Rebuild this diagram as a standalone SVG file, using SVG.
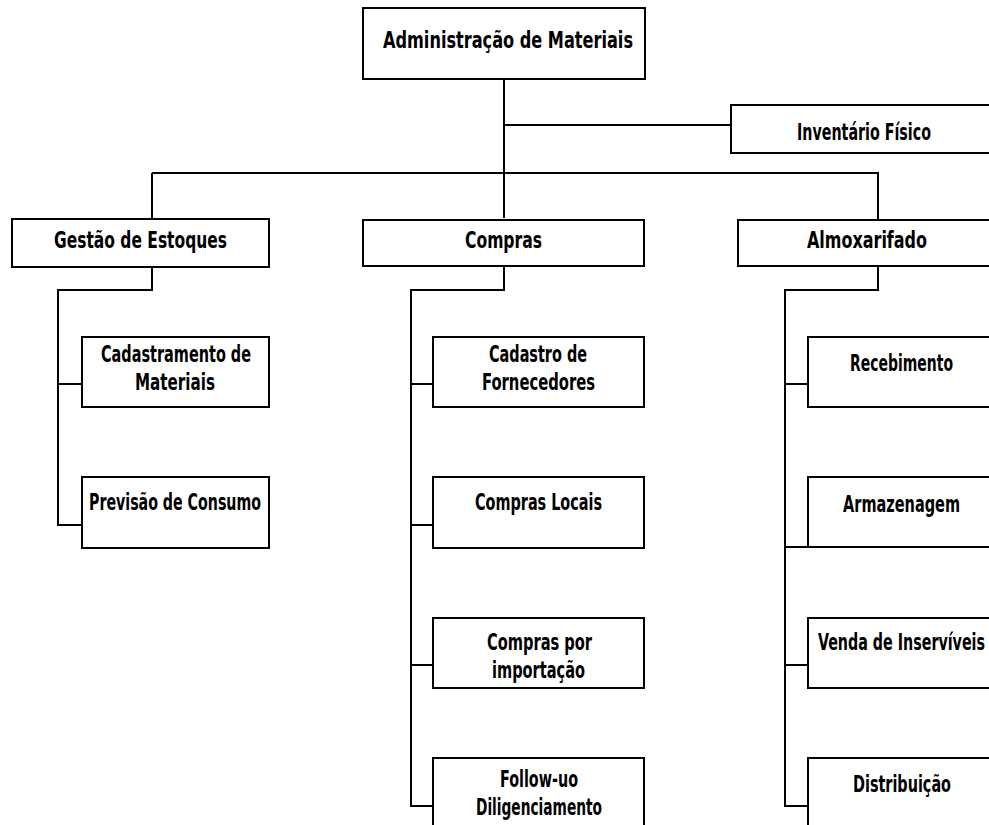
<svg xmlns="http://www.w3.org/2000/svg" width="989" height="825" viewBox="0 0 989 825">
<style>
rect,.b{fill:#fff;stroke:#000;stroke-width:2}
.c path{fill:none;stroke:#000;stroke-width:2}
text{font-family:"DejaVu Sans Condensed","Liberation Sans Narrow","DejaVu Sans",sans-serif;font-weight:bold;font-size:23px;fill:#000;text-anchor:middle}
</style>
<rect x="0" y="0" width="989" height="825" style="stroke:none"/>
<g class="c" id="connectors">
<path d="M504 79V218"/>
<path d="M504 125H731"/>
<path d="M152 173H878V220"/>
<path d="M152 173V219"/>
<path d="M152 267V290H58V525H82"/>
<path d="M58 384H82"/>
<path d="M504 266V290H411V806H433"/>
<path d="M411 384H433"/>
<path d="M411 525H433"/>
<path d="M411 665H433"/>
<path d="M878 266V290H785V806H808"/>
<path d="M785 384H808"/>
<path d="M785 547H808"/>
<path d="M785 665H808"/>
</g>
<g id="n-admin"><rect x="363" y="8" width="282" height="71"/><text x="508" y="48" textLength="250" lengthAdjust="spacingAndGlyphs">Administração de Materiais</text></g>
<g id="n-inventario"><path class="b" d="M990 105H731V153H990"/><text x="864" y="140" textLength="134" lengthAdjust="spacingAndGlyphs">Inventário Físico</text></g>
<g id="n-gestao"><rect x="12" y="219" width="257" height="48"/><text x="140.5" y="248" textLength="173" lengthAdjust="spacingAndGlyphs">Gestão de Estoques</text></g>
<g id="n-compras"><rect x="363" y="220" width="281" height="46"/><text x="503.5" y="248" textLength="77" lengthAdjust="spacingAndGlyphs">Compras</text></g>
<g id="n-almox"><path class="b" d="M990 220H738V266H990"/><text x="867" y="248" textLength="120" lengthAdjust="spacingAndGlyphs">Almoxarifado</text></g>
<g id="n-cadmat"><rect x="82" y="337" width="187" height="70"/><text x="176" y="362" textLength="150" lengthAdjust="spacingAndGlyphs">Cadastramento de</text><text x="175" y="390" textLength="80" lengthAdjust="spacingAndGlyphs">Materiais</text></g>
<g id="n-previsao"><rect x="82" y="477" width="187" height="71"/><text x="175" y="510" textLength="172" lengthAdjust="spacingAndGlyphs">Previsão de Consumo</text></g>
<g id="n-cadforn"><rect x="433" y="337" width="211" height="70"/><text x="538" y="362" textLength="98" lengthAdjust="spacingAndGlyphs">Cadastro de</text><text x="538.5" y="390" textLength="113" lengthAdjust="spacingAndGlyphs">Fornecedores</text></g>
<g id="n-locais"><rect x="433" y="477" width="211" height="71"/><text x="538.5" y="510" textLength="127" lengthAdjust="spacingAndGlyphs">Compras Locais</text></g>
<g id="n-import"><rect x="433" y="618" width="211" height="70"/><text x="539.5" y="650" textLength="105" lengthAdjust="spacingAndGlyphs">Compras por</text><text x="538.5" y="678" textLength="93" lengthAdjust="spacingAndGlyphs">importação</text></g>
<g id="n-follow"><path class="b" d="M433 826V758H644V826"/><text x="539" y="787" textLength="78" lengthAdjust="spacingAndGlyphs">Follow-uo</text><text x="539" y="815" textLength="126" lengthAdjust="spacingAndGlyphs">Diligenciamento</text></g>
<g id="n-receb"><path class="b" d="M990 337H808V407H990"/><text x="901.5" y="371" textLength="103" lengthAdjust="spacingAndGlyphs">Recebimento</text></g>
<g id="n-armaz"><path class="b" d="M990 477H808V547H990"/><text x="901.5" y="512" textLength="117" lengthAdjust="spacingAndGlyphs">Armazenagem</text></g>
<g id="n-venda"><path class="b" d="M990 618H808V688H990"/><text x="901.5" y="650" textLength="167" lengthAdjust="spacingAndGlyphs">Venda de Inservíveis</text></g>
<g id="n-distrib"><path class="b" d="M808 826V758H990"/><text x="902" y="792" textLength="98" lengthAdjust="spacingAndGlyphs">Distribuição</text></g>
</svg>
